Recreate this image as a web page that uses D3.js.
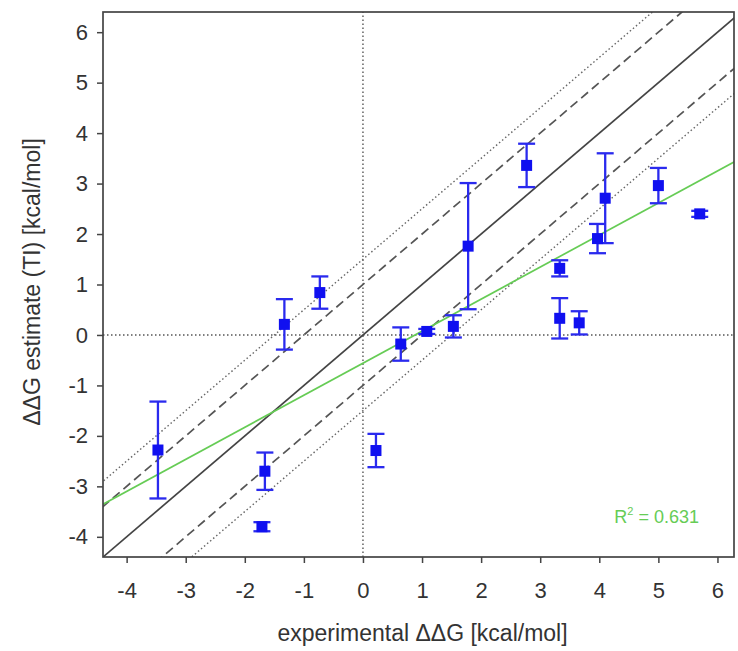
<!DOCTYPE html>
<html>
<head>
<meta charset="utf-8">
<script src="https://cdn.jsdelivr.net/npm/d3@7"></script>
<style>
  html, body { margin: 0; padding: 0; background: #fff; }
  svg { display: block; font-family: "Liberation Sans", Arial, sans-serif; }
</style>
</head>
<body>
<svg id="chart" width="738" height="651"></svg>
<script>
// Experimental vs. TI-estimated ΔΔG (kcal/mol), with error bars
const expDDG   = [-3.47, -1.66, -1.71, -1.33, -0.73, 0.22, 0.64, 1.08, 1.53, 1.78, 2.77, 3.33, 3.33, 3.66, 3.97, 4.10, 5.00, 5.70];
const estDDG   = [-2.28, -2.70, -3.80,  0.21,  0.84, -2.29, -0.18, 0.07, 0.17, 1.76, 3.36, 1.32, 0.33, 0.24, 1.91, 2.71, 2.96, 2.40];
const estError = [ 0.96,  0.37,  0.09,  0.50,  0.32,  0.33,  0.33, 0.05, 0.22, 1.25, 0.43, 0.16, 0.40, 0.23, 0.29, 0.89, 0.35, 0.06];

const xTicks = [-4, -3, -2, -1, 0, 1, 2, 3, 4, 5, 6];
const yTicks = [-4, -3, -2, -1, 0, 1, 2, 3, 4, 5, 6];

// Reference bands around the identity line (kcal/mol)
const dashedOffset = 1.0;
const dottedOffset = 1.5;

// Linear fit of estimate against experiment
const fitSlope = 0.635;
const fitIntercept = -0.56;
const rSquared = "0.631";

const svg = d3.select("#chart");
const margin = { left: 103, right: 4, top: 12, bottom: 94 };
const W = 738, H = 651;

const x = d3.scaleLinear().domain([-4.4, 6.28]).range([margin.left, W - margin.right]);
const y = d3.scaleLinear().domain([-4.4, 6.4]).range([H - margin.bottom, margin.top]);

const [x0, x1] = x.domain();
const [y0, y1] = y.domain();

svg.append("defs").append("clipPath").attr("id", "plotClip")
  .append("rect")
  .attr("x", x(x0)).attr("y", y(y1))
  .attr("width", x(x1) - x(x0)).attr("height", y(y0) - y(y1));

const plot = svg.append("g").attr("clip-path", "url(#plotClip)");

// Zero lines
plot.append("line")
  .attr("x1", x(0)).attr("x2", x(0)).attr("y1", y(y0)).attr("y2", y(y1))
  .attr("stroke", "#555").attr("stroke-width", 1.4).attr("stroke-dasharray", "1.5,2.5");
plot.append("line")
  .attr("x1", x(x0)).attr("x2", x(x1)).attr("y1", y(0)).attr("y2", y(0))
  .attr("stroke", "#555").attr("stroke-width", 1.4).attr("stroke-dasharray", "1.5,2.5");

// Identity line and offset bands
function diag(offset, dash, width, color) {
  const lo = -10, hi = 10;
  plot.append("line")
    .attr("x1", x(lo)).attr("y1", y(lo + offset))
    .attr("x2", x(hi)).attr("y2", y(hi + offset))
    .attr("stroke", color).attr("stroke-width", width)
    .attr("stroke-dasharray", dash);
}
[-dottedOffset, dottedOffset].forEach(o => diag(o, "1.5,2.5", 1.4, "#666"));
[-dashedOffset, dashedOffset].forEach(o => diag(o, "9,5", 1.7, "#555"));
diag(0, null, 1.7, "#444");

// Regression line
plot.append("line")
  .attr("x1", x(-10)).attr("y1", y(fitIntercept + fitSlope * -10))
  .attr("x2", x(10)).attr("y2", y(fitIntercept + fitSlope * 10))
  .attr("stroke", "#66cc55").attr("stroke-width", 1.7);

// Error bars and markers
const pts = expDDG.map((v, i) => ({ x: v, y: estDDG[i], e: estError[i] }));
const capHalf = 8.5;
const eb = plot.append("g").attr("stroke", "#2a2aee").attr("stroke-width", 2.3);
pts.forEach(p => {
  const cx = x(p.x);
  eb.append("line").attr("x1", cx).attr("x2", cx).attr("y1", y(p.y - p.e)).attr("y2", y(p.y + p.e));
  eb.append("line").attr("x1", cx - capHalf).attr("x2", cx + capHalf).attr("y1", y(p.y + p.e)).attr("y2", y(p.y + p.e));
  eb.append("line").attr("x1", cx - capHalf).attr("x2", cx + capHalf).attr("y1", y(p.y - p.e)).attr("y2", y(p.y - p.e));
});
const sq = 11;
plot.append("g").selectAll("rect").data(pts).join("rect")
  .attr("x", d => x(d.x) - sq / 2).attr("y", d => y(d.y) - sq / 2)
  .attr("width", sq).attr("height", sq)
  .attr("fill", "#1010f0");

// R² annotation
const r2 = svg.append("text")
  .attr("x", x(4.97)).attr("y", y(-3.73))
  .attr("text-anchor", "middle")
  .attr("fill", "#66cc55").attr("font-size", 18);
r2.append("tspan").text("R");
r2.append("tspan").attr("dy", -8).attr("font-size", 11).text("2");
r2.append("tspan").attr("dy", 8).text(" = " + rSquared);

// Frame
svg.append("rect")
  .attr("x", x(x0)).attr("y", y(y1))
  .attr("width", x(x1) - x(x0)).attr("height", y(y0) - y(y1))
  .attr("fill", "none").attr("stroke", "#444").attr("stroke-width", 1.7);

// Axes (tick labels use a plain hyphen for negatives)
const fmt = d => String(d);
const xAxis = svg.append("g")
  .attr("transform", `translate(0,${y(y0)})`)
  .call(d3.axisBottom(x).tickValues(xTicks).tickSize(6).tickPadding(19).tickFormat(fmt));
const yAxis = svg.append("g")
  .attr("transform", `translate(${x(x0)},0)`)
  .call(d3.axisLeft(y).tickValues(yTicks).tickSize(6).tickPadding(9).tickFormat(fmt));
[xAxis, yAxis].forEach(a => {
  a.select(".domain").remove();
  a.selectAll(".tick line").attr("stroke", "#444").attr("stroke-width", 1.5);
  a.selectAll(".tick text").attr("fill", "#333").attr("font-size", 22)
    .attr("font-family", "'Liberation Sans', Arial, sans-serif");
});

// Axis titles
svg.append("text")
  .attr("x", (x(x0) + x(x1)) / 2 + 4).attr("y", 641)
  .attr("text-anchor", "middle").attr("fill", "#333").attr("font-size", 23)
  .text("experimental ΔΔG [kcal/mol]");
svg.append("text")
  .attr("transform", `translate(40,282) rotate(-90)`)
  .attr("text-anchor", "middle").attr("fill", "#333").attr("font-size", 23)
  .text("ΔΔG estimate (TI) [kcal/mol]");
</script>
</body>
</html>
